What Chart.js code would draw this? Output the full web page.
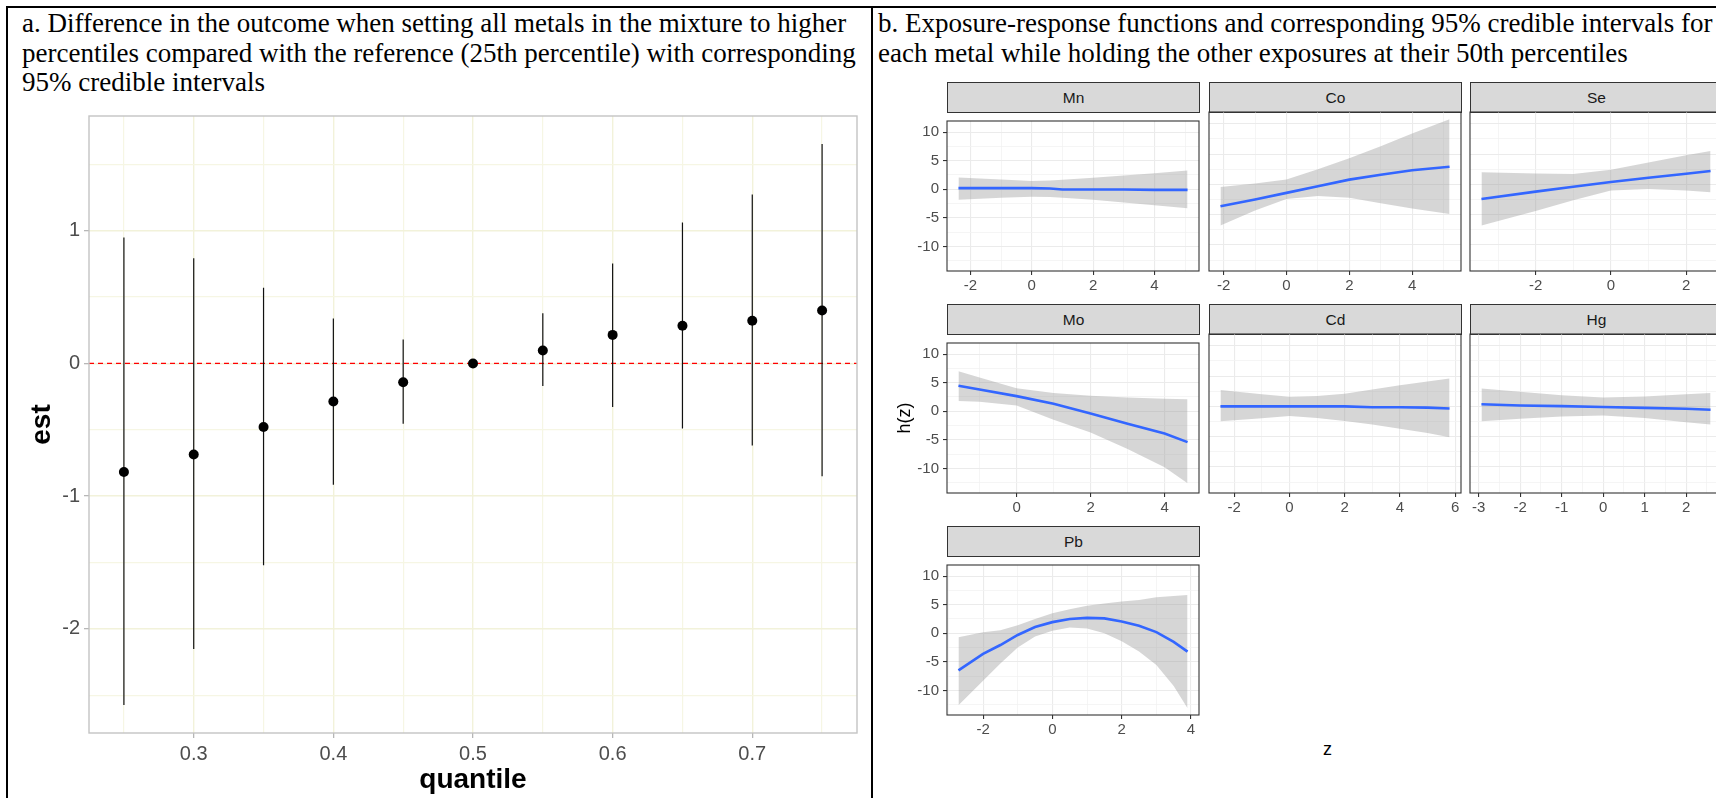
<!DOCTYPE html>
<html>
<head>
<meta charset="utf-8">
<script src="https://cdn.jsdelivr.net/npm/chart.js@4.4.1/dist/chart.umd.min.js"></script>
<style>
  html, body { margin: 0; padding: 0; background: #fff; }
  body { width: 1716px; height: 798px; overflow: hidden; position: relative; font-family: "Liberation Sans", Arial, sans-serif; }
  .rule { position: absolute; background: #000; }
  .caption { position: absolute; font-family: "Liberation Serif", "Times New Roman", serif; font-size: 27px; line-height: 29.5px; color: #000; white-space: nowrap; }
  canvas { position: absolute; }
  .strip { position: absolute; box-sizing: border-box; height: 31px; background: #D9D9D9; border: 1px solid #333; color: #1A1A1A; font-size: 15.5px; text-align: center; line-height: 29px; }
  .axis-title { position: absolute; font-size: 18px; color: #000; }
</style>
</head>
<body>
<div class="rule" style="left:6px;top:6px;width:1710px;height:2px"></div>
<div class="rule" style="left:6px;top:6px;width:2px;height:792px"></div>
<div class="rule" style="left:871px;top:6px;width:2px;height:792px"></div>

<div class="caption" style="left:22px;top:9px">a. Difference in the outcome when setting all metals in the mixture to higher<br>percentiles compared with the reference (25th percentile) with corresponding<br>95% credible intervals</div>
<div class="caption" style="left:878px;top:9px">b. Exposure-response functions and corresponding 95% credible intervals for<br>each metal while holding the other exposures at their 50th percentiles</div>

<canvas id="quant" width="858" height="698" style="left:12px;top:100px"></canvas>
<div id="facets"></div>
<div class="axis-title" style="left:1323px;top:739px">z</div>

<script>
// ---- panel a: overall mixture effect vs quantile ----
const quantiles = [0.25, 0.30, 0.35, 0.40, 0.45, 0.50, 0.55, 0.60, 0.65, 0.70, 0.75];
const est =   [-0.818, -0.686, -0.479, -0.287, -0.142, 0, 0.097, 0.215, 0.284, 0.322, 0.399];
const lower = [-2.573, -2.152, -1.521, -0.913, -0.454, 0, -0.170, -0.329, -0.491, -0.618, -0.850];
const upper = [0.948, 0.793, 0.571, 0.339, 0.180, 0, 0.379, 0.753, 1.062, 1.272, 1.653];
const quantTicks = [0.3, 0.4, 0.5, 0.6, 0.7];
const estTicks = [-2, -1, 0, 1];

// ---- panel b: exposure-response per metal (z, h(z), 95% CI) ----
const metals = ['Mn', 'Co', 'Se', 'Mo', 'Cd', 'Hg', 'Pb'];

const mnZ  = [-2.39, -1, 0, 0.6, 1, 2, 3, 4, 5.08];
const mnH  = [0.2, 0.2, 0.2, 0.15, -0.05, -0.05, -0.05, -0.1, -0.1];
const mnLo = [-1.85, -1.5, -1.3, -1.35, -1.5, -1.85, -2.3, -2.8, -3.3];
const mnHi = [2.05, 1.7, 1.45, 1.55, 1.65, 2.0, 2.4, 2.8, 3.3];

const coZ  = [-2.1, -1, 0, 1, 2, 3, 4, 5.19];
const coH  = [-3.6, -2.5, -1.4, -0.3, 0.78, 1.6, 2.33, 2.9];
const coLo = [-6.8, -4.3, -2.4, -1.9, -2.2, -3.1, -4.0, -4.9];
const coHi = [-0.45, 0.15, 0.8, 2.5, 4.3, 6.3, 8.4, 10.75];

const seZ  = [-3.44, -2, -1, 0, 1, 2, 2.65];
const seH  = [-2.4, -1.2, -0.4, 0.4, 1.1, 1.75, 2.2];
const seLo = [-6.8, -4.4, -2.6, -1.0, -0.75, -1.0, -1.3];
const seHi = [2.0, 1.8, 1.7, 2.4, 3.6, 4.8, 5.5];

const moZ  = [-1.57, -1, 0, 1, 2, 3, 4, 4.62];
const moH  = [4.45, 3.8, 2.65, 1.3, -0.4, -2.2, -3.9, -5.4];
const moLo = [1.8, 1.65, 1.0, -1.5, -3.7, -6.6, -9.8, -12.6];
const moHi = [7.0, 5.9, 4.05, 3.2, 2.7, 2.4, 2.2, 2.1];

const cdZ  = [-2.5, -1, 0, 1, 2, 3, 4, 5, 5.8];
const cdH  = [0, 0, 0, 0, 0, -0.15, -0.15, -0.2, -0.35];
const cdLo = [-2.45, -1.95, -1.6, -1.9, -2.4, -3.0, -3.7, -4.4, -5.1];
const cdHi = [2.7, 2.0, 1.6, 1.7, 2.1, 2.8, 3.5, 4.1, 4.6];

const hgZ  = [-2.93, -2, -1, 0, 1, 2, 2.59];
const hgH  = [0.35, 0.15, 0.05, -0.1, -0.25, -0.4, -0.55];
const hgLo = [-2.45, -2.05, -1.67, -1.5, -1.9, -2.6, -3.0];
const hgHi = [2.95, 2.4, 1.85, 1.45, 1.65, 2.0, 2.2];

const pbZ  = [-2.71, -2, -1.5, -1, -0.5, 0, 0.5, 1, 1.5, 2, 2.5, 3, 3.5, 3.9];
const pbH  = [-6.5, -3.6, -2.05, -0.3, 1.1, 1.95, 2.5, 2.7, 2.6, 2.05, 1.3, 0.2, -1.5, -3.2];
const pbLo = [-12.6, -8.3, -5.3, -2.5, -0.55, 0.45, 1.0, 0.85, 0, -1.4, -3.2, -5.55, -9.2, -13.1];
const pbHi = [-0.7, 0.2, 0.55, 1.4, 2.5, 3.5, 4.2, 4.8, 5.2, 5.55, 5.8, 6.3, 6.5, 6.7];

const zTicks = {
  Mn: [-2, 0, 2, 4], Co: [-2, 0, 2, 4], Se: [-2, 0, 2], Mo: [0, 2, 4],
  Cd: [-2, 0, 2, 4, 6], Hg: [-3, -2, -1, 0, 1, 2], Pb: [-2, 0, 2, 4]
};
const hTicks = [-10, -5, 0, 5, 10];

const facetData = {
  Mn: {z: mnZ, h: mnH, lo: mnLo, hi: mnHi},
  Co: {z: coZ, h: coH, lo: coLo, hi: coHi},
  Se: {z: seZ, h: seH, lo: seLo, hi: seHi},
  Mo: {z: moZ, h: moH, lo: moLo, hi: moHi},
  Cd: {z: cdZ, h: cdH, lo: cdLo, hi: cdHi},
  Hg: {z: hgZ, h: hgH, lo: hgLo, hi: hgHi},
  Pb: {z: pbZ, h: pbH, lo: pbLo, hi: pbHi}
};

Chart.defaults.font.family = '"Liberation Sans", Arial, sans-serif';
Chart.defaults.animation = false;
Chart.defaults.plugins.legend.display = false;
Chart.defaults.plugins.tooltip.enabled = false;

// ggplot-style 5% expansion
function expand(lo, hi) {
  const d = hi - lo;
  return [lo - 0.05 * d, hi + 0.05 * d];
}

// majors plus the half-way minor lines inside the range
function withMinors(majors, range) {
  const step = majors.length > 1 ? majors[1] - majors[0] : 1;
  const all = majors.slice();
  majors.forEach(m => { all.push(m - step / 2); });
  all.push(majors[majors.length - 1] + step / 2);
  return all.filter(v => v >= range[0] && v <= range[1]).sort((a, b) => a - b);
}

const isIn = (list, v) => list.some(m => Math.abs(m - v) < 1e-9);

function gridFor(majors, majorColor, minorColor, majorW, minorW, tickColor, tickLen) {
  return {
    color: ctx => (ctx.tick && isIn(majors, ctx.tick.value)) ? majorColor : minorColor,
    lineWidth: ctx => (ctx.tick && isIn(majors, ctx.tick.value)) ? majorW : minorW,
    tickColor: ctx => (ctx.tick && isIn(majors, ctx.tick.value)) ? tickColor : 'rgba(0,0,0,0)',
    tickLength: tickLen,
    tickWidth: 1.1
  };
}

// full rectangle around the plotting area
const panelBorder = {
  id: 'panelBorder',
  defaults: {color: '#333333', width: 1.1},
  afterDatasetsDraw(chart, args, opts) {
    const a = chart.chartArea, c = chart.ctx;
    c.save();
    c.strokeStyle = opts.color;
    c.lineWidth = opts.width;
    c.strokeRect(a.left, a.top, a.right - a.left, a.bottom - a.top);
    c.restore();
  }
};
Chart.register(panelBorder);

// ---------- panel a ----------
const qRange = expand(Math.min(...quantiles), Math.max(...quantiles));
const eRange = expand(Math.min(...lower), Math.max(...upper));
const qAll = withMinors(quantTicks, qRange);
const eAll = withMinors(estTicks, eRange);

const ciSegments = [];
quantiles.forEach((q, i) => {
  ciSegments.push({x: q, y: lower[i]}, {x: q, y: upper[i]}, {x: q, y: null});
});

new Chart(document.getElementById('quant'), {
  type: 'line',
  data: {
    datasets: [
      {data: quantiles.map((q, i) => ({x: q, y: est[i]})), showLine: false,
       pointRadius: 5, pointBackgroundColor: '#000', pointBorderWidth: 0},
      {data: ciSegments, borderColor: '#111', borderWidth: 1.2, pointRadius: 0, spanGaps: false},
      {data: [{x: qRange[0], y: 0}, {x: qRange[1], y: 0}], borderColor: '#FF0000',
       borderWidth: 1.2, borderDash: [5, 4], pointRadius: 0}
    ]
  },
  options: {
    responsive: false,
    layout: {padding: {top: 11, right: 13, left: 0, bottom: 0}},
    plugins: {panelBorder: {color: '#C4C4C4', width: 1.4}},
    scales: {
      x: {
        type: 'linear', min: qRange[0], max: qRange[1],
        afterBuildTicks: s => { s.ticks = qAll.map(v => ({value: v})); },
        afterFit: s => { s.height = 65; },
        ticks: {autoSkip: false, maxRotation: 0, padding: 4, color: '#4D4D4D', font: {size: 20},
                callback: v => isIn(quantTicks, v) ? v.toFixed(1) : ''},
        grid: gridFor(quantTicks, '#F2F2DA', '#F6F6E4', 1.4, 1.2, '#AAAAAA', 5),
        border: {display: false},
        title: {display: true, text: 'quantile', color: '#000', font: {size: 28, weight: 'bold'}, padding: {top: 0, bottom: 1}}
      },
      y: {
        type: 'linear', min: eRange[0], max: eRange[1],
        afterBuildTicks: s => { s.ticks = eAll.map(v => ({value: v})); },
        afterFit: s => { s.width = 77; },
        ticks: {autoSkip: false, padding: 4, color: '#4D4D4D', font: {size: 20},
                callback: v => isIn(estTicks, v) ? String(v) : ''},
        grid: gridFor(estTicks, '#F2F2DA', '#F6F6E4', 1.4, 1.2, '#AAAAAA', 5),
        border: {display: false},
        title: {display: true, text: 'est', color: '#000', font: {size: 28, weight: 'bold'}, padding: {top: 13, bottom: 0}}
      }
    }
  }
});

// ---------- panel b ----------
const colLeft = [947, 1209, 1470];
const rowStripTop = [82, 304, 526];
const panelW = 252, panelH = 159, stripH = 30;

let hMin = Infinity, hMax = -Infinity;
metals.forEach(m => {
  hMin = Math.min(hMin, ...facetData[m].lo);
  hMax = Math.max(hMax, ...facetData[m].hi);
});
const hRange = expand(hMin, hMax);
const hAll = withMinors(hTicks, hRange);

const holder = document.getElementById('facets');

metals.forEach((m, idx) => {
  const col = idx % 3, row = Math.floor(idx / 3);
  const f = facetData[m];
  const panelLeft = colLeft[col];
  const panelTop = rowStripTop[row] + stripH;

  const strip = document.createElement('div');
  strip.className = 'strip';
  strip.style.left = panelLeft + 'px';
  strip.style.top = rowStripTop[row] + 'px';
  strip.style.width = (panelW + 1) + 'px';
  strip.textContent = m;
  holder.appendChild(strip);

  const axisW = col === 0 ? 60 : 12;
  const canvas = document.createElement('canvas');
  canvas.width = axisW + panelW + 12;
  canvas.height = 4 + panelH + 30;
  canvas.style.left = (panelLeft - axisW) + 'px';
  canvas.style.top = (panelTop - 4) + 'px';
  holder.appendChild(canvas);

  const zRange = expand(Math.min(...f.z), Math.max(...f.z));
  const zAll = withMinors(zTicks[m], zRange);
  const pts = arr => f.z.map((z, i) => ({x: z, y: arr[i]}));

  new Chart(canvas, {
    type: 'line',
    data: {
      datasets: [
        {data: pts(f.h), borderColor: '#3366FF', borderWidth: 2.6, pointRadius: 0, tension: 0},
        {data: pts(f.hi), borderWidth: 0, pointRadius: 0, fill: '+1', backgroundColor: 'rgba(153,153,153,0.4)'},
        {data: pts(f.lo), borderWidth: 0, pointRadius: 0, fill: false}
      ]
    },
    options: {
      responsive: false,
      layout: {padding: {top: 4, right: 12, left: 0, bottom: 0}},
      plugins: {panelBorder: {color: '#333333', width: 1.1}},
      scales: {
        x: {
          type: 'linear', min: zRange[0], max: zRange[1],
          afterBuildTicks: s => { s.ticks = zAll.map(v => ({value: v})); },
          afterFit: s => { s.height = 30; },
          ticks: {autoSkip: false, maxRotation: 0, padding: 2, color: '#4D4D4D', font: {size: 15},
                  callback: v => isIn(zTicks[m], v) ? String(Math.round(v)) : ''},
          grid: gridFor(zTicks[m], '#EBEBEB', '#F2F2F2', 1.1, 0.8, '#333333', 4),
          border: {display: false}
        },
        y: {
          type: 'linear', min: hRange[0], max: hRange[1],
          afterBuildTicks: s => { s.ticks = hAll.map(v => ({value: v})); },
          afterFit: s => { s.width = axisW; },
          ticks: {display: col === 0, autoSkip: false, padding: 4, color: '#4D4D4D', font: {size: 15},
                  callback: v => isIn(hTicks, v) ? String(v) : ''},
          grid: Object.assign(gridFor(hTicks, '#EBEBEB', '#F2F2F2', 1.1, 0.8, '#333333', 4), {drawTicks: col === 0}),
          border: {display: false},
          title: {display: m === 'Mo', text: 'h(z)', color: '#000', font: {size: 18}, padding: {top: 7, bottom: 0}}
        }
      }
    }
  });
});
</script>
</body>
</html>
